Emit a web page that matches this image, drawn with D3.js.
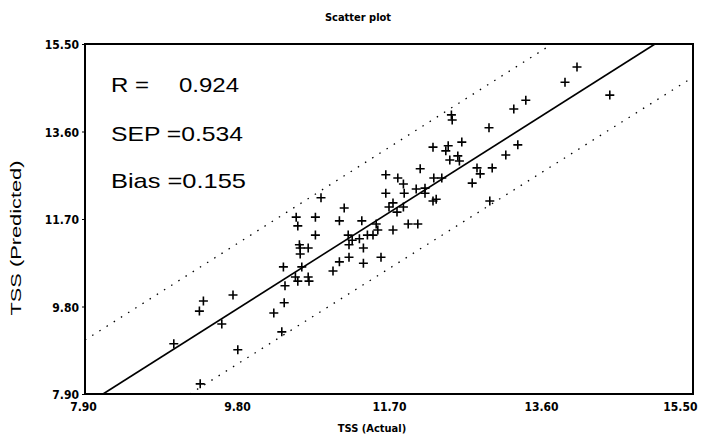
<!DOCTYPE html>
<html>
<head>
<meta charset="utf-8">
<script src="https://cdn.jsdelivr.net/npm/d3@7"></script>
<style>
  body { margin: 0; background: #fff; }
  .cond { font-family: "Liberation Sans Narrow", "DejaVu Sans Condensed", sans-serif; font-stretch: condensed; font-weight: bold; }
</style>
</head>
<body>
<div id="chart"></div>
<script>
// TSS actual vs predicted
var actual = [9.01, 9.34, 9.38, 9.33, 9.61, 9.75, 9.81, 10.38, 10.40, 10.39,
  10.26, 10.36, 10.53, 10.56, 10.69, 10.70, 10.61, 11.00, 11.08, 11.20,
  11.38, 11.60, 10.58, 10.59, 10.69, 10.59, 10.78, 11.19, 11.24, 11.33,
  11.43, 11.50, 11.20, 11.38, 11.08, 11.36, 11.54, 11.56, 11.75, 11.94,
  12.06, 10.54, 10.78, 10.56, 10.85, 11.14, 11.70, 11.80, 11.88, 11.75,
  11.66, 11.89, 12.04, 12.15, 12.15, 12.29, 12.26, 12.36, 11.66, 11.81,
  11.88, 12.09, 12.48, 12.49, 12.25, 12.44, 12.41, 12.61, 12.56, 12.46,
  12.58, 12.95, 13.26, 13.41, 13.31, 13.16, 12.80, 12.84, 12.99, 12.74,
  12.96, 13.90, 14.05, 14.46, 12.25];
var predicted = [8.99, 8.12, 9.92, 9.70, 9.42, 10.05, 8.86, 10.66, 10.25, 9.88,
  9.66, 9.25, 10.44, 10.35, 10.44, 10.35, 10.66, 10.57, 10.77, 10.87,
  10.74, 10.87, 11.14, 11.07, 11.07, 10.94, 11.35, 11.35, 11.24, 11.27,
  11.35, 11.35, 11.14, 11.07, 11.66, 11.66, 11.59, 11.46, 11.46, 11.59,
  11.59, 11.74, 11.74, 11.55, 12.16, 11.94, 11.96, 11.85, 11.96, 12.05,
  12.26, 12.26, 12.35, 12.37, 12.26, 12.13, 12.59, 12.59, 12.66, 12.59,
  12.46, 12.79, 13.96, 13.85, 13.26, 13.29, 13.18, 13.37, 13.07, 12.98,
  12.96, 13.68, 14.09, 14.28, 13.31, 13.09, 12.81, 12.68, 12.81, 12.48,
  12.09, 14.67, 15.00, 14.39, 12.09];

var tickValues = [7.9, 9.8, 11.7, 13.6, 15.5];

// fitted line and the two limit lines (end points in data units)
var fitLine = [[8.125, 7.9], [15.025, 15.5]];
var upperLine = [[7.9, 9.07], [13.74, 15.5]];
var lowerLine = [[9.21, 7.9], [15.5, 14.78]];

var statLabels = ["R =", "SEP =0.534", "Bias =0.155"];
var rValue = "0.924";

var width = 714, height = 440;
var mLeft = 85, mRight = 693, mTop = 44, mBottom = 394;

var svg = d3.select("#chart").append("svg")
  .attr("width", width)
  .attr("height", height);

var x = d3.scaleLinear().domain([7.9, 15.5]).range([mLeft, mRight]);
var y = d3.scaleLinear().domain([7.9, 15.5]).range([mBottom, mTop]);

// title
svg.append("text")
  .attr("class", "cond")
  .attr("x", 358).attr("y", 21)
  .attr("text-anchor", "middle")
  .style("font-size", "11px")
  .text("Scatter plot");

// y axis
var yAxis = svg.append("g")
  .attr("transform", "translate(" + mLeft + ",0)")
  .call(d3.axisLeft(y).tickValues(tickValues).tickSize(3).tickFormat(d3.format(".2f")));
yAxis.select(".domain").remove();
yAxis.selectAll("line").attr("stroke", "#000");
yAxis.selectAll("text")
  .attr("class", "cond")
  .attr("x", -6)
  .attr("dy", "0.4em")
  .style("font-size", "12px")
  .attr("fill", "#000");

// x axis
var xAxis = svg.append("g")
  .attr("transform", "translate(0," + mBottom + ")")
  .call(d3.axisBottom(x).tickValues(tickValues).tickSize(0).tickFormat(d3.format(".2f")));
xAxis.select(".domain").remove();
xAxis.selectAll("text")
  .attr("class", "cond")
  .attr("y", 8)
  .style("font-size", "12px")
  .attr("fill", "#000")
  .attr("text-anchor", function (d, i) { return i === tickValues.length - 1 ? "end" : "middle"; })
  .attr("dx", function (d, i) { return i === 0 ? -2 : (i === tickValues.length - 1 ? 4 : 0); });

// axis titles
svg.append("text")
  .attr("class", "cond")
  .attr("x", 372).attr("y", 432)
  .attr("text-anchor", "middle")
  .style("font-size", "11px")
  .text("TSS (Actual)");

svg.append("text")
  .attr("transform", "translate(21,238) rotate(-90)")
  .attr("text-anchor", "middle")
  .attr("textLength", 155)
  .attr("lengthAdjust", "spacingAndGlyphs")
  .style("font-family", "Liberation Sans, Arial, sans-serif")
  .style("font-size", "14px")
  .text("TSS (Predicted)");

// lines
var line = d3.line().x(function (d) { return x(d[0]); }).y(function (d) { return y(d[1]); });

svg.append("path")
  .attr("d", line(fitLine))
  .attr("fill", "none")
  .attr("stroke", "#000")
  .attr("stroke-width", 1.6);

[upperLine, lowerLine].forEach(function (l) {
  svg.append("path")
    .attr("d", line(l))
    .attr("fill", "none")
    .attr("stroke", "#000")
    .attr("stroke-width", 1.3)
    .attr("stroke-dasharray", "1.5,7");
});

// points as + marks
var pts = actual.map(function (a, i) { return [a, predicted[i]]; });
svg.selectAll(".pt")
  .data(pts)
  .enter()
  .append("path")
    .attr("class", "pt")
    .attr("transform", function (d) { return "translate(" + x(d[0]) + "," + y(d[1]) + ")"; })
    .attr("d", "M-4.5,0H4.5M0,-4.5V4.5")
    .attr("stroke", "#000")
    .attr("stroke-width", 1.6)
    .attr("fill", "none");

// frame
svg.append("rect")
  .attr("x", mLeft).attr("y", mTop)
  .attr("width", mRight - mLeft).attr("height", mBottom - mTop)
  .attr("fill", "none")
  .attr("stroke", "#000")
  .attr("stroke-width", 2);

// stats text, stretched a little wider like the picture
var statsY = [92, 141, 188];
var statsLen = [38, 132, 135];
svg.selectAll(".stat")
  .data(statLabels)
  .enter()
  .append("text")
    .attr("class", "stat")
    .attr("x", 111)
    .attr("y", function (d, i) { return statsY[i]; })
    .attr("textLength", function (d, i) { return statsLen[i]; })
    .attr("lengthAdjust", "spacingAndGlyphs")
    .style("font-family", "Liberation Sans, Arial, sans-serif")
    .style("font-size", "21px")
    .attr("fill", "#000")
    .text(function (d) { return d; });

svg.append("text")
  .attr("x", 179).attr("y", statsY[0])
  .attr("textLength", 60)
  .attr("lengthAdjust", "spacingAndGlyphs")
  .style("font-family", "Liberation Sans, Arial, sans-serif")
  .style("font-size", "21px")
  .text(rValue);
</script>
</body>
</html>
